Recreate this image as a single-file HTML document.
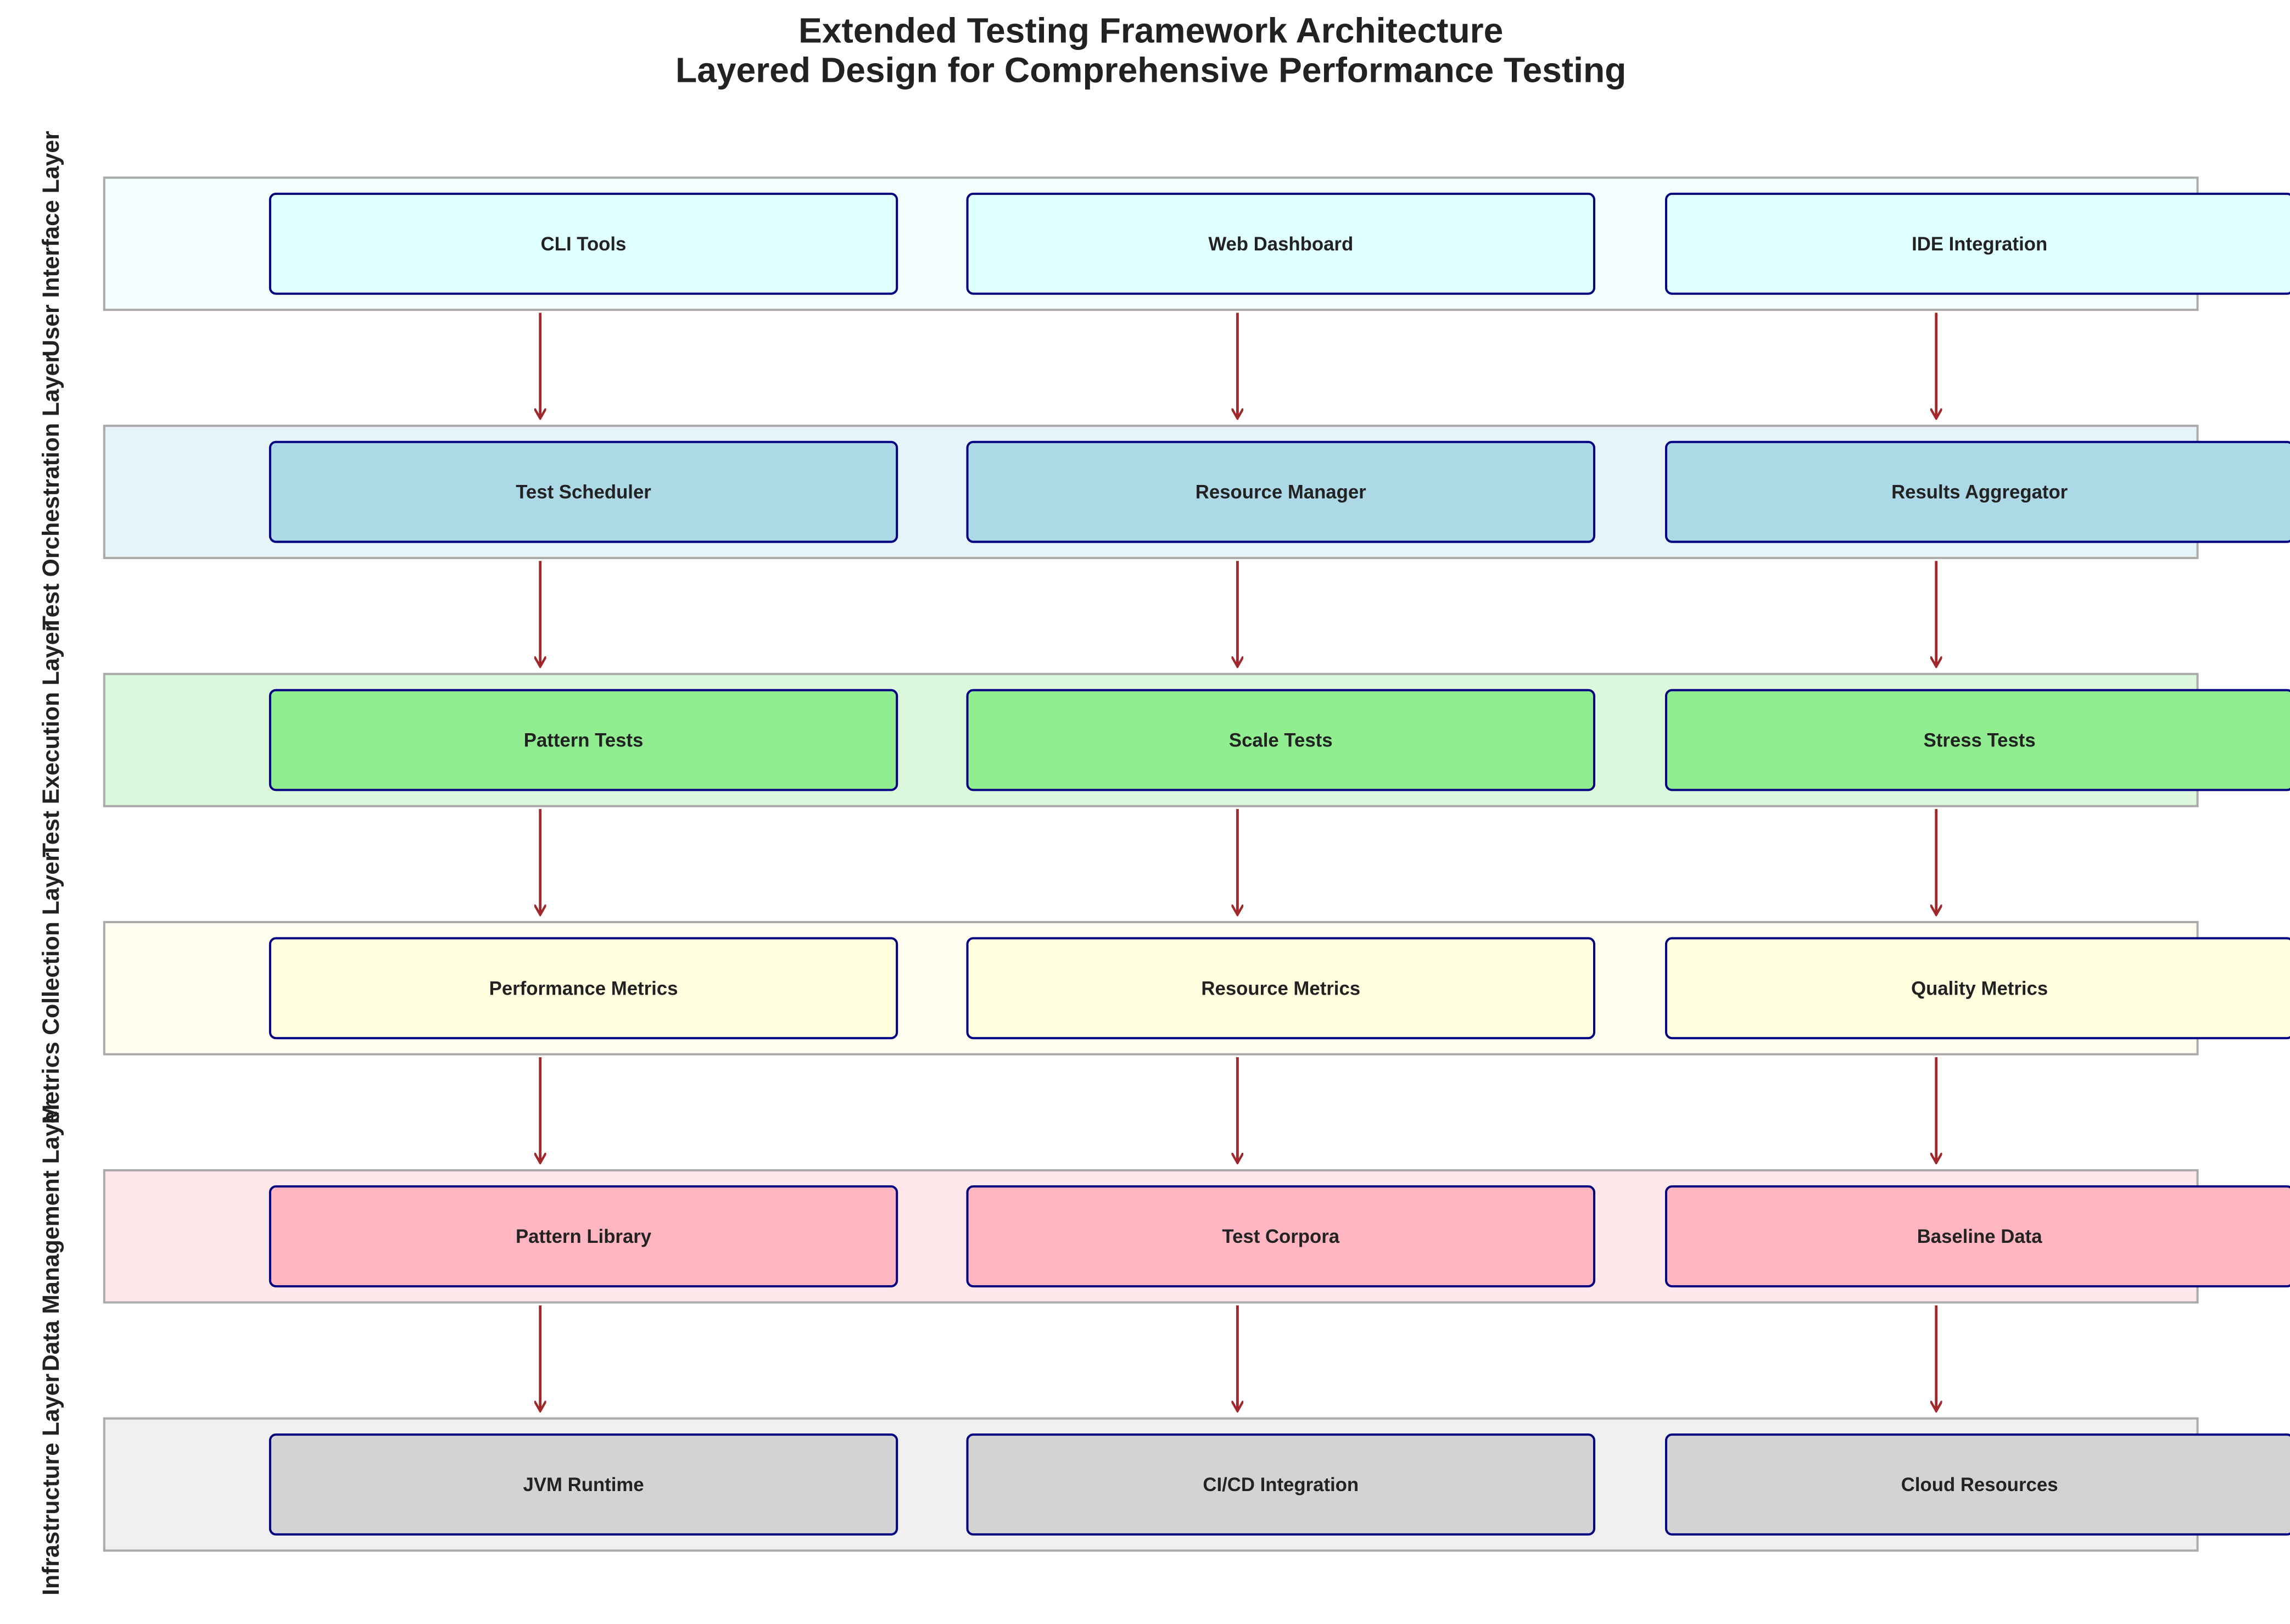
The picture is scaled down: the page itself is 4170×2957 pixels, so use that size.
<!DOCTYPE html>
<html><head><meta charset="utf-8"><style>html,body{margin:0;padding:0;background:#fff}svg{display:block}</style></head>
<body>
<svg width="4170" height="2957" viewBox="0 0 1560 1106" preserveAspectRatio="none" xmlns="http://www.w3.org/2000/svg" font-family="Liberation Sans, sans-serif">
<defs><marker id="ah" markerWidth="8" markerHeight="8" refX="4" refY="7" orient="0" markerUnits="userSpaceOnUse"><path d="M0,0 L4,7 L8,0" fill="none" stroke="#a0282d" stroke-width="1.6"/></marker></defs>
<rect width="1560" height="1106" fill="#fff"/>
<text x="784" y="29" text-anchor="middle" font-size="24" font-weight="bold" fill="#222">Extended Testing Framework Architecture</text>
<text x="784" y="56" text-anchor="middle" font-size="24" font-weight="bold" fill="#222">Layered Design for Comprehensive Performance Testing</text>
<g id="layers"></g>
</svg>
<script>
const L=[["User Interface Layer","#f5feff","#e0ffff",["CLI Tools","Web Dashboard","IDE Integration"]],
["Test Orchestration Layer","#e6f3f8","#add8e6",["Test Scheduler","Resource Manager","Results Aggregator"]],
["Test Execution Layer","#dcf8dc","#90ee90",["Pattern Tests","Scale Tests","Stress Tests"]],
["Metrics Collection Layer","#fffef0","#ffffe0",["Performance Metrics","Resource Metrics","Quality Metrics"]],
["Data Management Layer","#ffe8ec","#ffb6c1",["Pattern Library","Test Corpora","Baseline Data"]],
["Infrastructure Layer","#f0f0f0","#d3d3d3",["JVM Runtime","CI/CD Integration","Cloud Resources"]]];
const bx=[184,659,1135],ax=[368,843,1319];let s="";
L.forEach((l,i)=>{const y=121+i*169;
s+=`<rect x="71" y="${y}" width="1426" height="90" fill="${l[1]}" stroke="#aaa" stroke-width="1.5"/>`;
s+=`<text transform="translate(40,${y+45}) rotate(-90)" text-anchor="middle" font-size="16" font-weight="bold" fill="#222">${l[0]}</text>`;
l[3].forEach((t,j)=>{s+=`<rect x="${bx[j]}" y="${y+11}" width="427" height="68" rx="4" fill="${l[2]}" stroke="#000080" stroke-width="1.5"/>`;
s+=`<text x="${bx[j]+213.5}" y="${y+49.5}" text-anchor="middle" font-size="13" font-weight="bold" fill="#222">${t}</text>`;
if(i<5)s+=`<line x1="${ax[j]}" y1="${y+92}" x2="${ax[j]}" y2="${y+164}" stroke="#a0282d" stroke-width="1.8" marker-end="url(#ah)"/>`;});});
document.getElementById("layers").innerHTML=s;
</script>
</body></html>
